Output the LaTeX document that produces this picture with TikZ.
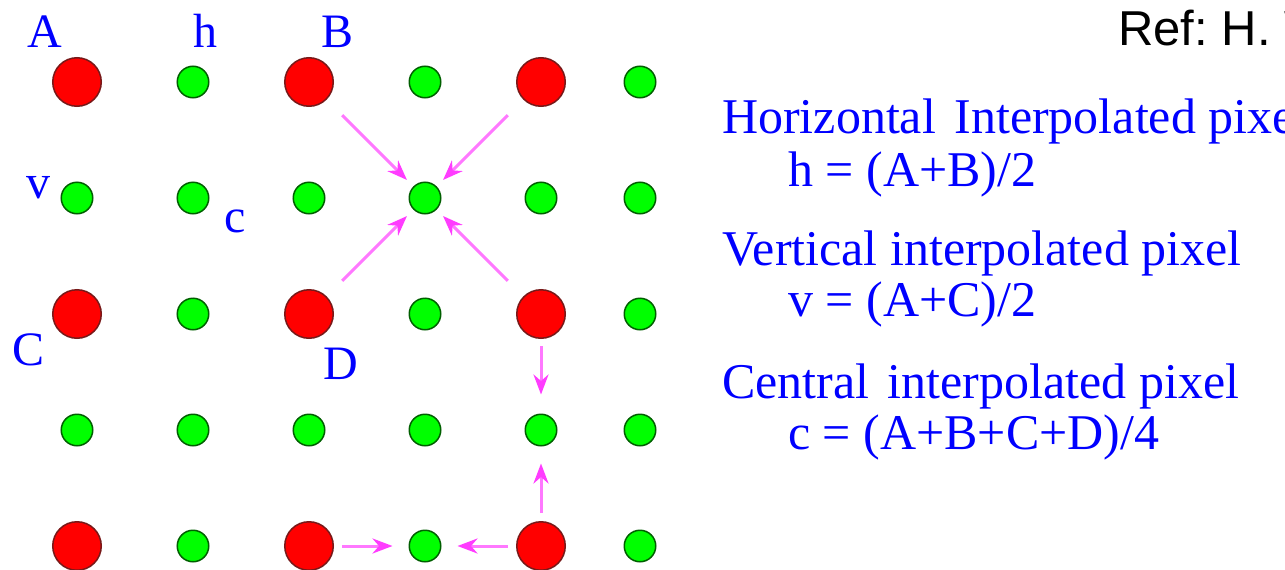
\documentclass[tikz,border=0pt]{standalone}
\usepackage{fontspec}
\setmainfont{Liberation Serif}
\newfontfamily\reffont{Liberation Sans}
\usetikzlibrary{arrows.meta}
\frenchspacing
\definecolor{redfill}{RGB}{255,0,0}
\definecolor{redline}{RGB}{120,25,25}
\definecolor{greenfill}{RGB}{0,255,0}
\definecolor{greenline}{RGB}{0,95,0}
\definecolor{pinkline}{RGB}{255,120,255}
\definecolor{pinkhead}{RGB}{255,60,255}
\begin{document}
\begin{tikzpicture}[x=1pt,y=-1pt,
  redpix/.style={circle,fill=redfill,draw=redline,line width=1.5pt,minimum size=48.5pt,inner sep=0pt},
  greenpix/.style={circle,fill=greenfill,draw=greenline,line width=1.5pt,minimum size=31.5pt,inner sep=0pt},
  lbl/.style={text=blue,font=\fontsize{48}{56}\selectfont,inner sep=0pt,anchor=base},
  info/.style={text=blue,font=\fontsize{50}{58}\selectfont,inner sep=0pt,anchor=base west},
  interp/.style={draw=pinkline,line width=3pt,-{Stealth[length=20pt,width=15pt,color=pinkhead]}}
]
\useasboundingbox (0,0) rectangle (1285,570);
\clip (0,0) rectangle (1285,570);
\fill[white] (0,0) rectangle (1285,570);

% pixel grid
\foreach \c/\x in {1/77,2/193,3/309,4/425,5/541,6/640}{
  \foreach \r/\y in {1/82,2/198,3/314,4/430,5/546}{
    \pgfmathtruncatemacro{\isred}{mod(\c,2)*mod(\r,2)}
    \ifnum\isred=1
      \node[redpix] (p\c\r) at (\x,\y) {};
    \else
      \node[greenpix] (p\c\r) at (\x,\y) {};
    \fi
  }
}

% grid labels
\node[lbl] (lA) at (45,47) {A};
\node[lbl] (lh) at (205,47) {h};
\node[lbl] (lB) at (338,47) {B};
\node[lbl] (lv) at (38,198) {v};
\node[lbl] (lc) at (235,232) {c};
\node[lbl] (lC) at (29,365) {C};
\node[lbl] (lD) at (341,379) {D};

% interpolation arrows
\draw[interp,shorten <=22pt,shorten >=9pt] (p31) -- (p42);
\draw[interp,shorten <=22pt,shorten >=9pt] (p51) -- (p42);
\draw[interp,shorten <=22pt,shorten >=9pt] (p33) -- (p42);
\draw[interp,shorten <=22pt,shorten >=9pt] (p53) -- (p42);
\draw[interp,shorten <=7pt,shorten >=19pt] (p53) -- (p54);
\draw[interp,shorten <=8pt,shorten >=17pt] (p55) -- (p54);
\draw[interp,shorten <=8pt,shorten >=16pt] (p35) -- (p45);
\draw[interp,shorten <=8pt,shorten >=16pt] (p55) -- (p45);

% explanation text
\node[info] (t1) at (722,133) {Horizontal\hspace{6pt} Interpolated pixel};
\node[info] (t2) at (788,186) {h = (A+B)/2};
\node[info] (t3) at (722,265) {Vertical interpolated pixel};
\node[info] (t4) at (788,316) {v = (A+C)/2};
\node[info] (t5) at (722,398) {Central\hspace{6pt} interpolated pixel};
\node[info] (t6) at (788,449) {c = (A+B+C+D)/4};

% reference
\node[anchor=base west,inner sep=0pt,font=\reffont\fontsize{49}{56}\selectfont] (ref) at (1118,45) {Ref: H. W};
\end{tikzpicture}
\end{document}
